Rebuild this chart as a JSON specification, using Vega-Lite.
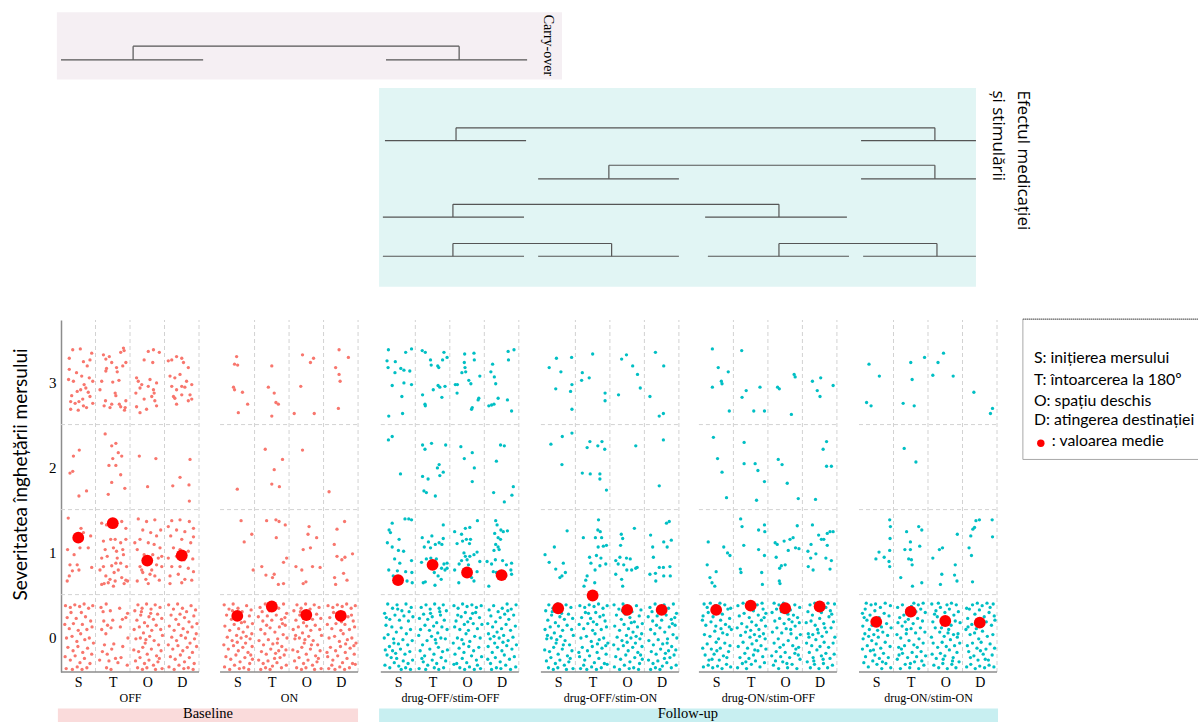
{
"$schema": "https://vega.github.io/schema/vega-lite/v6.json",
"autosize": {"type": "none"},
"width": 936,
"height": 352,
"padding": {"left": 61, "top": 320, "right": 201, "bottom": 50},
"background": "white",
"config": {
  "view": {"stroke": null},
  "axisX": {"domain": false, "ticks": false, "grid": false, "labelFont": "Liberation Serif", "labelFontSize": 14, "labelColor": "#000000", "labelPadding": 3, "labelFlush": false, "labelOverlap": false, "titleFont": "Liberation Serif", "titleFontSize": 12, "titleFontWeight": "normal", "titleColor": "#000000", "titleY": 25, "titleBaseline": "middle", "titleAlign": "center"}
},
"datasets": {
  "grid_v": [{"x":100},{"x":200},{"x":300},{"x":400}],
  "grid_h": [{"y":50},{"y":150},{"y":250}],
  "means": [
    {"g":"OFF","x":50,"m":117},{"g":"OFF","x":150,"m":134},{"g":"OFF","x":250,"m":90},{"g":"OFF","x":350,"m":96},
    {"g":"ON","x":50,"m":25},{"g":"ON","x":150,"m":36},{"g":"ON","x":250,"m":26},{"g":"ON","x":350,"m":25},
    {"g":"dOFF_sOFF","x":50,"m":67},{"g":"dOFF_sOFF","x":150,"m":85},{"g":"dOFF_sOFF","x":250,"m":76},{"g":"dOFF_sOFF","x":350,"m":73},
    {"g":"dOFF_sON","x":50,"m":34},{"g":"dOFF_sON","x":150,"m":49},{"g":"dOFF_sON","x":250,"m":32},{"g":"dOFF_sON","x":350,"m":32},
    {"g":"dON_sOFF","x":50,"m":32},{"g":"dON_sOFF","x":150,"m":37},{"g":"dON_sOFF","x":250,"m":34},{"g":"dON_sOFF","x":350,"m":36},
    {"g":"dON_sON","x":50,"m":18},{"g":"dON_sON","x":150,"m":30},{"g":"dON_sON","x":250,"m":19},{"g":"dON_sON","x":350,"m":17}
  ],
  "boxes": [
    {"k":"carry","x":-12,"x2":1452,"y":735,"y2":656},
    {"k":"effect","x":922,"x2":2652,"y":646,"y2":412},
    {"k":"baseline","x":-9,"x2":861,"y":-84,"y2":-110},
    {"k":"followup","x":922,"x2":2716,"y":-84,"y2":-110}
  ],
  "diagram": [
    {"x":0,"x2":412,"y":679,"y2":679},{"x":942,"x2":1351,"y":679,"y2":679},
    {"x":209,"x2":209,"y":679,"y2":695},{"x":209,"x2":1154,"y":695,"y2":695},{"x":1154,"x2":1154,"y":695,"y2":679},
    {"x":939,"x2":1348,"y":584,"y2":584},{"x":2319,"x2":2652,"y":584,"y2":584},
    {"x":1145,"x2":1145,"y":584,"y2":599},{"x":1145,"x2":2533,"y":599,"y2":599},{"x":2533,"x2":2533,"y":599,"y2":584},
    {"x":1383,"x2":1791,"y":539,"y2":539},{"x":2319,"x2":2652,"y":539,"y2":539},
    {"x":1588,"x2":1588,"y":539,"y2":555},{"x":1588,"x2":2533,"y":555,"y2":555},{"x":2533,"x2":2533,"y":555,"y2":539},
    {"x":933,"x2":1342,"y":494,"y2":494},{"x":1867,"x2":2278,"y":494,"y2":494},
    {"x":1136,"x2":1136,"y":494,"y2":509},{"x":1136,"x2":2081,"y":509,"y2":509},{"x":2081,"x2":2081,"y":509,"y2":494},
    {"x":933,"x2":1342,"y":448,"y2":448},{"x":1383,"x2":1791,"y":448,"y2":448},{"x":1875,"x2":2284,"y":448,"y2":448},{"x":2325,"x2":2652,"y":448,"y2":448},
    {"x":1136,"x2":1136,"y":448,"y2":463},{"x":1136,"x2":1596,"y":463,"y2":463},{"x":1596,"x2":1596,"y":463,"y2":448},
    {"x":2081,"x2":2081,"y":448,"y2":463},{"x":2081,"x2":2539,"y":463,"y2":463},{"x":2539,"x2":2539,"y":463,"y2":448}
  ],
  "OFF": [
    {"x":34,"y":338},{"x":56,"y":339},{"x":24,"y":328},{"x":89,"y":334},{"x":65,"y":324},{"x":84,"y":326},{"x":24,"y":315},{"x":45,"y":311},{"x":76,"y":319},{"x":60,"y":307},{"x":22,"y":303},{"x":36,"y":301},{"x":82,"y":305},{"x":92,"y":301},{"x":67,"y":297},{"x":72,"y":293},{"x":57,"y":291},{"x":47,"y":289},{"x":79,"y":288},{"x":31,"y":284},{"x":84,"y":283},{"x":63,"y":280},{"x":52,"y":277},{"x":28,"y":277},{"x":41,"y":275},{"x":92,"y":275},{"x":50,"y":267},{"x":65,"y":272},{"x":74,"y":270},{"x":28,"y":268},
    {"x":123,"y":332},{"x":130,"y":327},{"x":147,"y":323},{"x":181,"y":340},{"x":183,"y":337},{"x":173,"y":335},{"x":188,"y":323},{"x":118,"y":301},{"x":132,"y":316},{"x":130,"y":313},{"x":161,"y":317},{"x":163,"y":312},{"x":179,"y":319},{"x":168,"y":302},{"x":129,"y":278},{"x":125,"y":272},{"x":147,"y":274},{"x":169,"y":274},{"x":173,"y":271},{"x":188,"y":278},{"x":186,"y":270},{"x":184,"y":267},{"x":142,"y":270},{"x":159,"y":284},{"x":157,"y":287},{"x":113,"y":291},{"x":150,"y":300},{"x":140,"y":330},
    {"x":219,"y":305},{"x":224,"y":301},{"x":234,"y":297},{"x":229,"y":293},{"x":241,"y":326},{"x":253,"y":336},{"x":268,"y":338},{"x":285,"y":335},{"x":266,"y":323},{"x":258,"y":303},{"x":253,"y":295},{"x":268,"y":291},{"x":277,"y":299},{"x":270,"y":287},{"x":272,"y":278},{"x":277,"y":272},{"x":248,"y":268},{"x":229,"y":264},{"x":219,"y":271},{"x":241,"y":280},{"x":263,"y":283},{"x":217,"y":287},
    {"x":311,"y":325},{"x":321,"y":326},{"x":335,"y":330},{"x":350,"y":328},{"x":355,"y":323},{"x":369,"y":317},{"x":316,"y":307},{"x":330,"y":305},{"x":345,"y":309},{"x":364,"y":301},{"x":379,"y":297},{"x":321,"y":295},{"x":335,"y":291},{"x":350,"y":295},{"x":359,"y":294},{"x":326,"y":283},{"x":330,"y":281},{"x":350,"y":285},{"x":374,"y":285},{"x":379,"y":280},{"x":335,"y":274},{"x":369,"y":278},
    {"x":36,"y":213},{"x":53,"y":220},{"x":26,"y":193},{"x":34,"y":195},{"x":52,"y":166},{"x":74,"y":172},{"x":128,"y":239},{"x":147,"y":225},{"x":159,"y":228},{"x":166,"y":217},{"x":176,"y":213},{"x":139,"y":202},{"x":159,"y":202},{"x":147,"y":182},{"x":173,"y":191},{"x":137,"y":168},{"x":185,"y":175},{"x":150,"y":210},{"x":227,"y":213},{"x":275,"y":210},{"x":251,"y":177},{"x":374,"y":209},{"x":345,"y":188},{"x":324,"y":178},{"x":371,"y":179},{"x":372,"y":160},
    {"x":21,"y":140},{"x":58,"y":128},{"x":65,"y":123},{"x":86,"y":119},{"x":55,"y":105},{"x":79,"y":105},{"x":19,"y":103},{"x":38,"y":97},{"x":89,"y":82},{"x":26,"y":85},{"x":47,"y":85},{"x":52,"y":79},{"x":33,"y":78},{"x":24,"y":72},{"x":18,"y":66},
    {"x":118,"y":134},{"x":132,"y":132},{"x":147,"y":136},{"x":161,"y":134},{"x":176,"y":136},{"x":188,"y":128},{"x":123,"y":113},{"x":144,"y":115},{"x":157,"y":115},{"x":173,"y":111},{"x":188,"y":115},{"x":128,"y":103},{"x":152,"y":105},{"x":161,"y":101},{"x":179,"y":103},{"x":118,"y":93},{"x":134,"y":95},{"x":163,"y":93},{"x":181,"y":97},{"x":123,"y":83},{"x":147,"y":84},{"x":173,"y":87},{"x":190,"y":83},{"x":130,"y":72},{"x":154,"y":76},{"x":142,"y":68},{"x":157,"y":66},{"x":176,"y":70},{"x":188,"y":67},{"x":118,"y":62},{"x":125,"y":63},{"x":137,"y":64},{"x":152,"y":60},{"x":183,"y":63},{"x":193,"y":66},{"x":113,"y":79},{"x":166,"y":79},{"x":159,"y":87},
    {"x":224,"y":139},{"x":248,"y":136},{"x":272,"y":138},{"x":289,"y":126},{"x":237,"y":126},{"x":260,"y":123},{"x":277,"y":119},{"x":229,"y":115},{"x":253,"y":111},{"x":270,"y":109},{"x":287,"y":105},{"x":221,"y":103},{"x":241,"y":97},{"x":266,"y":97},{"x":282,"y":93},{"x":229,"y":83},{"x":248,"y":87},{"x":277,"y":85},{"x":292,"y":83},{"x":237,"y":76},{"x":258,"y":74},{"x":272,"y":72},{"x":221,"y":66},{"x":246,"y":68},{"x":285,"y":67},{"x":253,"y":63},{"x":234,"y":79},{"x":292,"y":95},{"x":214,"y":111},{"x":263,"y":79},
    {"x":321,"y":137},{"x":345,"y":138},{"x":372,"y":136},{"x":384,"y":128},{"x":311,"y":130},{"x":335,"y":126},{"x":359,"y":124},{"x":318,"y":119},{"x":350,"y":115},{"x":376,"y":111},{"x":384,"y":118},{"x":326,"y":105},{"x":345,"y":103},{"x":369,"y":101},{"x":311,"y":93},{"x":335,"y":95},{"x":357,"y":91},{"x":382,"y":92},{"x":321,"y":83},{"x":345,"y":83},{"x":369,"y":81},{"x":316,"y":72},{"x":340,"y":74},{"x":359,"y":68},{"x":379,"y":67},{"x":316,"y":63},{"x":350,"y":64},{"x":384,"y":77},
    {"x":13,"y":37},{"x":27,"y":35},{"x":40,"y":38},{"x":54,"y":36},{"x":67,"y":39},{"x":80,"y":34},{"x":92,"y":37},{"x":18,"y":23},{"x":29,"y":29},{"x":44,"y":22},{"x":59,"y":29},{"x":71,"y":24},{"x":86,"y":19},{"x":11,"y":15},{"x":24,"y":10},{"x":36,"y":16},{"x":50,"y":8},{"x":62,"y":15},{"x":75,"y":9},{"x":90,"y":12},{"x":16,"y":-1},{"x":32,"y":1},{"x":46,"y":-5},{"x":57,"y":4},{"x":69,"y":-3},{"x":82,"y":-1},{"x":94,"y":-7},{"x":20,"y":-12},{"x":35,"y":-16},{"x":49,"y":-11},{"x":63,"y":-18},{"x":77,"y":-13},{"x":89,"y":-20},{"x":12,"y":-23},{"x":27,"y":-27},{"x":41,"y":-22},{"x":55,"y":-30},{"x":68,"y":-25},{"x":84,"y":-31},{"x":15,"y":-37},{"x":33,"y":-38},{"x":47,"y":-35},{"x":61,"y":-38},{"x":75,"y":-36},
    {"x":116,"y":35},{"x":143,"y":31},{"x":170,"y":34},{"x":193,"y":28},{"x":124,"y":19},{"x":150,"y":20},{"x":178,"y":21},{"x":118,"y":9},{"x":145,"y":11},{"x":172,"y":12},{"x":194,"y":-1},{"x":126,"y":-9},{"x":153,"y":-8},{"x":179,"y":-11},{"x":120,"y":-17},{"x":147,"y":-14},{"x":174,"y":-24},{"x":112,"y":-27},{"x":139,"y":-28},{"x":165,"y":-30},{"x":192,"y":-33},{"x":145,"y":-38},{"x":132,"y":-36},{"x":188,"y":23},{"x":122,"y":30},{"x":135,"y":14},{"x":131,"y":39},{"x":130,"y":4},{"x":134,"y":-20},{"x":158,"y":-25},
    {"x":214,"y":31},{"x":223,"y":38},{"x":235,"y":34},{"x":248,"y":39},{"x":261,"y":33},{"x":273,"y":38},{"x":287,"y":35},{"x":220,"y":20},{"x":231,"y":26},{"x":242,"y":17},{"x":255,"y":24},{"x":268,"y":21},{"x":280,"y":27},{"x":292,"y":22},{"x":212,"y":9},{"x":227,"y":12},{"x":239,"y":5},{"x":251,"y":13},{"x":263,"y":8},{"x":276,"y":14},{"x":289,"y":9},{"x":217,"y":-2},{"x":230,"y":-1},{"x":244,"y":-7},{"x":257,"y":1},{"x":270,"y":-4},{"x":283,"y":-9},{"x":294,"y":2},{"x":211,"y":-15},{"x":225,"y":-17},{"x":237,"y":-12},{"x":250,"y":-20},{"x":262,"y":-14},{"x":277,"y":-22},{"x":290,"y":-16},{"x":216,"y":-28},{"x":229,"y":-24},{"x":242,"y":-31},{"x":255,"y":-27},{"x":268,"y":-33},{"x":281,"y":-29},{"x":293,"y":-37},{"x":222,"y":-36},{"x":236,"y":-38},{"x":249,"y":-36},{"x":274,"y":-38},{"x":260,"y":28},{"x":246,"y":-3},{"x":285,"y":-25},{"x":233,"y":30},
    {"x":312,"y":38},{"x":326,"y":33},{"x":338,"y":39},{"x":352,"y":34},{"x":364,"y":30},{"x":377,"y":37},{"x":390,"y":32},{"x":319,"y":26},{"x":333,"y":21},{"x":345,"y":27},{"x":358,"y":23},{"x":371,"y":18},{"x":385,"y":25},{"x":394,"y":16},{"x":314,"y":13},{"x":328,"y":8},{"x":341,"y":15},{"x":354,"y":10},{"x":367,"y":6},{"x":380,"y":12},{"x":392,"y":4},{"x":321,"y":0},{"x":335,"y":-4},{"x":348,"y":2},{"x":361,"y":-1},{"x":374,"y":-7},{"x":387,"y":-2},{"x":311,"y":-9},{"x":324,"y":-14},{"x":339,"y":-10},{"x":353,"y":-16},{"x":366,"y":-12},{"x":381,"y":-18},{"x":393,"y":-11},{"x":317,"y":-23},{"x":331,"y":-26},{"x":346,"y":-21},{"x":358,"y":-29},{"x":372,"y":-24},{"x":386,"y":-31},{"x":313,"y":-35},{"x":328,"y":-38},{"x":342,"y":-33},{"x":356,"y":-37},{"x":369,"y":-36},{"x":383,"y":-38}
  ],
  "ON": [
    {"x":48,"y":330},{"x":42,"y":321},{"x":51,"y":320},{"x":39,"y":294},{"x":42,"y":291},{"x":65,"y":288},{"x":80,"y":274},{"x":53,"y":264},{"x":150,"y":319},{"x":140,"y":294},{"x":157,"y":287},{"x":162,"y":276},{"x":169,"y":274},{"x":150,"y":260},{"x":239,"y":332},{"x":262,"y":323},{"x":271,"y":328},{"x":234,"y":295},{"x":215,"y":263},{"x":273,"y":263},{"x":345,"y":338},{"x":372,"y":329},{"x":335,"y":317},{"x":345,"y":309},{"x":348,"y":301},{"x":343,"y":269},
    {"x":50,"y":174},{"x":131,"y":221},{"x":181,"y":209},{"x":157,"y":197},{"x":150,"y":180},{"x":172,"y":177},{"x":239,"y":220},{"x":316,"y":171},
    {"x":61,"y":137},{"x":92,"y":121},{"x":70,"y":112},{"x":96,"y":79},{"x":135,"y":137},{"x":162,"y":138},{"x":171,"y":136},{"x":189,"y":132},{"x":163,"y":117},{"x":193,"y":93},{"x":184,"y":88},{"x":121,"y":83},{"x":133,"y":73},{"x":157,"y":74},{"x":152,"y":70},{"x":169,"y":62},{"x":184,"y":63},{"x":258,"y":130},{"x":255,"y":121},{"x":280,"y":117},{"x":241,"y":103},{"x":262,"y":105},{"x":220,"y":83},{"x":237,"y":79},{"x":268,"y":83},{"x":290,"y":82},{"x":241,"y":63},{"x":249,"y":65},{"x":361,"y":136},{"x":339,"y":127},{"x":331,"y":109},{"x":339,"y":95},{"x":353,"y":91},{"x":362,"y":94},{"x":384,"y":98},{"x":332,"y":70},{"x":358,"y":75},{"x":368,"y":67},{"x":335,"y":62},
    {"x":12,"y":38},{"x":26,"y":33},{"x":38,"y":39},{"x":52,"y":34},{"x":64,"y":30},{"x":77,"y":37},{"x":90,"y":32},{"x":19,"y":26},{"x":33,"y":21},{"x":45,"y":27},{"x":58,"y":23},{"x":71,"y":18},{"x":85,"y":25},{"x":94,"y":16},{"x":14,"y":13},{"x":28,"y":8},{"x":41,"y":15},{"x":54,"y":10},{"x":67,"y":6},{"x":80,"y":12},{"x":92,"y":4},{"x":21,"y":0},{"x":35,"y":-4},{"x":48,"y":2},{"x":61,"y":-1},{"x":74,"y":-7},{"x":87,"y":-2},{"x":11,"y":-9},{"x":24,"y":-14},{"x":39,"y":-10},{"x":53,"y":-16},{"x":66,"y":-12},{"x":81,"y":-18},{"x":93,"y":-11},{"x":17,"y":-23},{"x":31,"y":-26},{"x":46,"y":-21},{"x":58,"y":-29},{"x":72,"y":-24},{"x":86,"y":-31},{"x":13,"y":-35},{"x":28,"y":-38},{"x":42,"y":-33},{"x":56,"y":-37},{"x":69,"y":-36},{"x":83,"y":-38},{"x":94,"y":-26},{"x":50,"y":-6},{"x":36,"y":31},{"x":76,"y":1},{"x":62,"y":17},{"x":89,"y":-21},
    {"x":116,"y":35},{"x":131,"y":39},{"x":143,"y":31},{"x":157,"y":38},{"x":170,"y":34},{"x":184,"y":39},{"x":193,"y":28},{"x":111,"y":24},{"x":124,"y":19},{"x":137,"y":25},{"x":150,"y":20},{"x":163,"y":26},{"x":178,"y":21},{"x":189,"y":14},{"x":118,"y":9},{"x":130,"y":4},{"x":145,"y":11},{"x":159,"y":6},{"x":172,"y":12},{"x":183,"y":3},{"x":194,"y":-1},{"x":113,"y":-4},{"x":126,"y":-9},{"x":140,"y":-3},{"x":153,"y":-8},{"x":167,"y":-2},{"x":179,"y":-11},{"x":191,"y":-15},{"x":120,"y":-17},{"x":134,"y":-20},{"x":147,"y":-14},{"x":161,"y":-19},{"x":174,"y":-24},{"x":186,"y":-21},{"x":112,"y":-27},{"x":125,"y":-31},{"x":139,"y":-28},{"x":152,"y":-34},{"x":165,"y":-30},{"x":178,"y":-36},{"x":192,"y":-33},{"x":118,"y":-38},{"x":145,"y":-38},{"x":158,"y":-25},{"x":132,"y":-36},{"x":170,"y":-16},{"x":188,"y":23},{"x":155,"y":33},{"x":122,"y":30},{"x":166,"y":-7},{"x":135,"y":14},{"x":181,"y":16},
    {"x":214,"y":31},{"x":223,"y":38},{"x":235,"y":34},{"x":248,"y":39},{"x":261,"y":33},{"x":273,"y":38},{"x":287,"y":35},{"x":220,"y":20},{"x":231,"y":26},{"x":242,"y":17},{"x":255,"y":24},{"x":268,"y":21},{"x":280,"y":27},{"x":292,"y":22},{"x":212,"y":9},{"x":227,"y":12},{"x":239,"y":5},{"x":251,"y":13},{"x":263,"y":8},{"x":276,"y":14},{"x":289,"y":9},{"x":217,"y":-2},{"x":230,"y":-1},{"x":244,"y":-7},{"x":257,"y":1},{"x":270,"y":-4},{"x":283,"y":-9},{"x":294,"y":2},{"x":211,"y":-15},{"x":225,"y":-17},{"x":237,"y":-12},{"x":250,"y":-20},{"x":262,"y":-14},{"x":277,"y":-22},{"x":290,"y":-16},{"x":216,"y":-28},{"x":229,"y":-24},{"x":242,"y":-31},{"x":255,"y":-27},{"x":268,"y":-33},{"x":281,"y":-29},{"x":293,"y":-37},{"x":222,"y":-36},{"x":236,"y":-38},{"x":249,"y":-36},{"x":274,"y":-38},{"x":260,"y":28},{"x":246,"y":-3},{"x":285,"y":-25},{"x":233,"y":30},{"x":265,"y":-9},{"x":219,"y":2},
    {"x":313,"y":37},{"x":327,"y":35},{"x":340,"y":38},{"x":354,"y":36},{"x":367,"y":39},{"x":380,"y":34},{"x":392,"y":37},{"x":318,"y":23},{"x":329,"y":29},{"x":344,"y":22},{"x":359,"y":29},{"x":371,"y":24},{"x":386,"y":19},{"x":311,"y":15},{"x":324,"y":10},{"x":336,"y":16},{"x":350,"y":8},{"x":362,"y":15},{"x":375,"y":9},{"x":390,"y":12},{"x":316,"y":-1},{"x":332,"y":1},{"x":346,"y":-5},{"x":357,"y":4},{"x":369,"y":-3},{"x":382,"y":-1},{"x":394,"y":-7},{"x":320,"y":-12},{"x":335,"y":-16},{"x":349,"y":-11},{"x":363,"y":-18},{"x":377,"y":-13},{"x":389,"y":-20},{"x":312,"y":-23},{"x":327,"y":-27},{"x":341,"y":-22},{"x":355,"y":-30},{"x":368,"y":-25},{"x":384,"y":-31},{"x":315,"y":-37},{"x":333,"y":-38},{"x":347,"y":-35},{"x":361,"y":-38},{"x":375,"y":-36},{"x":392,"y":-32},{"x":338,"y":28},{"x":364,"y":-8},{"x":324,"y":-33},{"x":381,"y":26},{"x":352,"y":18},{"x":388,"y":-10},{"x":310,"y":-18}
  ],
  "dOFF_sOFF": [
    {"x":22,"y":338},{"x":72,"y":335},{"x":89,"y":339},{"x":18,"y":325},{"x":42,"y":324},{"x":21,"y":317},{"x":58,"y":316},{"x":67,"y":314},{"x":84,"y":313},{"x":41,"y":311},{"x":67,"y":299},{"x":33,"y":296},{"x":89,"y":297},{"x":61,"y":283},{"x":63,"y":263},{"x":23,"y":260},
    {"x":120,"y":337},{"x":129,"y":335},{"x":144,"y":326},{"x":146,"y":320},{"x":183,"y":335},{"x":192,"y":329},{"x":179,"y":326},{"x":165,"y":319},{"x":168,"y":317},{"x":121,"y":285},{"x":128,"y":274},{"x":129,"y":272},{"x":166,"y":296},{"x":171,"y":294},{"x":186,"y":295},{"x":177,"y":282},{"x":152,"y":291},
    {"x":216,"y":297},{"x":222,"y":297},{"x":221,"y":287},{"x":243,"y":333},{"x":270,"y":334},{"x":271,"y":326},{"x":244,"y":317},{"x":246,"y":312},{"x":255,"y":302},{"x":261,"y":298},{"x":287,"y":307},{"x":284,"y":281},{"x":282,"y":279},{"x":265,"y":270},{"x":263,"y":268},{"x":242,"y":323},{"x":235,"y":311},
    {"x":324,"y":321},{"x":319,"y":312},{"x":329,"y":306},{"x":333,"y":298},{"x":369,"y":336},{"x":386,"y":338},{"x":370,"y":326},{"x":340,"y":281},{"x":367,"y":279},{"x":379,"y":266},{"x":313,"y":272},{"x":321,"y":273},{"x":328,"y":274},
    {"x":22,"y":232},{"x":33,"y":236},{"x":57,"y":192},{"x":121,"y":226},{"x":128,"y":221},{"x":147,"y":228},{"x":188,"y":226},{"x":169,"y":203},{"x":164,"y":199},{"x":181,"y":194},{"x":121,"y":189},{"x":137,"y":186},{"x":171,"y":190},{"x":125,"y":172},{"x":132,"y":170},{"x":158,"y":166},{"x":232,"y":224},{"x":242,"y":210},{"x":265,"y":217},{"x":271,"y":199},{"x":265,"y":183},{"x":347,"y":226},{"x":358,"y":225},{"x":335,"y":207},{"x":327,"y":170},{"x":358,"y":159},{"x":384,"y":177},{"x":380,"y":167},
    {"x":70,"y":139},{"x":81,"y":139},{"x":89,"y":138},{"x":33,"y":134},{"x":24,"y":126},{"x":28,"y":123},{"x":53,"y":115},{"x":19,"y":111},{"x":33,"y":106},{"x":51,"y":102},{"x":66,"y":101},{"x":40,"y":92},{"x":89,"y":90},{"x":23,"y":79},{"x":48,"y":78},{"x":72,"y":77},{"x":90,"y":76},{"x":36,"y":72},{"x":76,"y":66},{"x":91,"y":64},{"x":55,"y":87},
    {"x":181,"y":132},{"x":120,"y":117},{"x":148,"y":119},{"x":138,"y":112},{"x":169,"y":111},{"x":181,"y":116},{"x":126,"y":106},{"x":144,"y":105},{"x":158,"y":109},{"x":177,"y":109},{"x":118,"y":88},{"x":132,"y":92},{"x":145,"y":93},{"x":161,"y":92},{"x":176,"y":81},{"x":186,"y":79},{"x":192,"y":81},{"x":123,"y":64},{"x":129,"y":65},{"x":157,"y":61},{"x":175,"y":68},{"x":166,"y":72},{"x":155,"y":76},{"x":183,"y":86},{"x":192,"y":87},
    {"x":214,"y":124},{"x":234,"y":121},{"x":258,"y":129},{"x":280,"y":137},{"x":245,"y":128},{"x":248,"y":115},{"x":260,"y":115},{"x":221,"y":110},{"x":237,"y":113},{"x":257,"y":110},{"x":241,"y":99},{"x":245,"y":95},{"x":258,"y":95},{"x":270,"y":97},{"x":234,"y":90},{"x":250,"y":91},{"x":227,"y":86},{"x":254,"y":85},{"x":279,"y":100},{"x":287,"y":89},{"x":226,"y":64},{"x":263,"y":70},{"x":279,"y":77},{"x":214,"y":79},{"x":242,"y":76},{"x":270,"y":66},
    {"x":333,"y":137},{"x":337,"y":132},{"x":348,"y":126},{"x":367,"y":125},{"x":330,"y":122},{"x":355,"y":124},{"x":340,"y":117},{"x":347,"y":115},{"x":333,"y":109},{"x":340,"y":106},{"x":328,"y":102},{"x":343,"y":103},{"x":332,"y":91},{"x":308,"y":89},{"x":321,"y":86},{"x":353,"y":90},{"x":364,"y":85},{"x":379,"y":87},{"x":377,"y":79},{"x":379,"y":74},{"x":362,"y":72},{"x":313,"y":60},{"x":335,"y":76},{"x":350,"y":70},{"x":326,"y":77},
    {"x":88,"y":35},{"x":73,"y":39},{"x":61,"y":31},{"x":47,"y":38},{"x":34,"y":34},{"x":20,"y":39},{"x":11,"y":28},{"x":93,"y":24},{"x":80,"y":19},{"x":67,"y":25},{"x":54,"y":20},{"x":41,"y":26},{"x":26,"y":21},{"x":15,"y":14},{"x":86,"y":9},{"x":74,"y":4},{"x":59,"y":11},{"x":45,"y":6},{"x":32,"y":12},{"x":21,"y":3},{"x":10,"y":-1},{"x":91,"y":-4},{"x":78,"y":-9},{"x":64,"y":-3},{"x":51,"y":-8},{"x":37,"y":-2},{"x":25,"y":-11},{"x":13,"y":-15},{"x":84,"y":-17},{"x":70,"y":-20},{"x":57,"y":-14},{"x":43,"y":-19},{"x":30,"y":-24},{"x":18,"y":-21},{"x":92,"y":-27},{"x":79,"y":-31},{"x":65,"y":-28},{"x":52,"y":-34},{"x":39,"y":-30},{"x":26,"y":-36},{"x":12,"y":-33},{"x":86,"y":-38},{"x":59,"y":-38},{"x":46,"y":-25},{"x":72,"y":-36},{"x":34,"y":-16},{"x":16,"y":23},{"x":49,"y":33},{"x":82,"y":30},{"x":38,"y":-7},
    {"x":190,"y":31},{"x":181,"y":38},{"x":169,"y":34},{"x":156,"y":39},{"x":143,"y":33},{"x":131,"y":38},{"x":117,"y":35},{"x":184,"y":20},{"x":173,"y":26},{"x":162,"y":17},{"x":149,"y":24},{"x":136,"y":21},{"x":124,"y":27},{"x":112,"y":22},{"x":192,"y":9},{"x":177,"y":12},{"x":165,"y":5},{"x":153,"y":13},{"x":141,"y":8},{"x":128,"y":14},{"x":115,"y":9},{"x":187,"y":-2},{"x":174,"y":-1},{"x":160,"y":-7},{"x":147,"y":1},{"x":134,"y":-4},{"x":121,"y":-9},{"x":110,"y":2},{"x":193,"y":-15},{"x":179,"y":-17},{"x":167,"y":-12},{"x":154,"y":-20},{"x":142,"y":-14},{"x":127,"y":-22},{"x":114,"y":-16},{"x":188,"y":-28},{"x":175,"y":-24},{"x":162,"y":-31},{"x":149,"y":-27},{"x":136,"y":-33},{"x":123,"y":-29},{"x":111,"y":-37},{"x":182,"y":-36},{"x":168,"y":-38},{"x":155,"y":-36},{"x":130,"y":-38},{"x":144,"y":28},{"x":158,"y":-3},{"x":119,"y":-25},{"x":171,"y":30},
    {"x":291,"y":37},{"x":277,"y":35},{"x":264,"y":38},{"x":250,"y":36},{"x":237,"y":39},{"x":224,"y":34},{"x":212,"y":37},{"x":286,"y":23},{"x":275,"y":29},{"x":260,"y":22},{"x":245,"y":29},{"x":233,"y":24},{"x":218,"y":19},{"x":293,"y":15},{"x":280,"y":10},{"x":268,"y":16},{"x":254,"y":8},{"x":242,"y":15},{"x":229,"y":9},{"x":214,"y":12},{"x":288,"y":-1},{"x":272,"y":1},{"x":258,"y":-5},{"x":247,"y":4},{"x":235,"y":-3},{"x":222,"y":-1},{"x":210,"y":-7},{"x":284,"y":-12},{"x":269,"y":-16},{"x":255,"y":-11},{"x":241,"y":-18},{"x":227,"y":-13},{"x":215,"y":-20},{"x":292,"y":-23},{"x":277,"y":-27},{"x":263,"y":-22},{"x":249,"y":-30},{"x":236,"y":-25},{"x":220,"y":-31},{"x":289,"y":-37},{"x":271,"y":-38},{"x":257,"y":-35},{"x":243,"y":-38},{"x":229,"y":-36},{"x":212,"y":-32},{"x":266,"y":28},{"x":240,"y":-8},{"x":280,"y":-33},{"x":223,"y":26},{"x":252,"y":18},
    {"x":392,"y":38},{"x":378,"y":33},{"x":366,"y":39},{"x":352,"y":34},{"x":340,"y":30},{"x":327,"y":37},{"x":314,"y":32},{"x":385,"y":26},{"x":371,"y":21},{"x":359,"y":27},{"x":346,"y":23},{"x":333,"y":18},{"x":319,"y":25},{"x":310,"y":16},{"x":390,"y":13},{"x":376,"y":8},{"x":363,"y":15},{"x":350,"y":10},{"x":337,"y":6},{"x":324,"y":12},{"x":312,"y":4},{"x":383,"y":0},{"x":369,"y":-4},{"x":356,"y":2},{"x":343,"y":-1},{"x":330,"y":-7},{"x":317,"y":-2},{"x":393,"y":-9},{"x":380,"y":-14},{"x":365,"y":-10},{"x":351,"y":-16},{"x":338,"y":-12},{"x":323,"y":-18},{"x":311,"y":-11},{"x":387,"y":-23},{"x":373,"y":-26},{"x":358,"y":-21},{"x":346,"y":-29},{"x":332,"y":-24},{"x":318,"y":-31},{"x":391,"y":-35},{"x":376,"y":-38},{"x":362,"y":-33},{"x":348,"y":-37},{"x":335,"y":-36},{"x":321,"y":-38},{"x":310,"y":-26},{"x":354,"y":-6},{"x":368,"y":31},{"x":328,"y":1}
  ],
  "dOFF_sON": [
    {"x":24,"y":317},{"x":45,"y":328},{"x":58,"y":312},{"x":89,"y":329},{"x":43,"y":292},{"x":90,"y":297},{"x":86,"y":289},{"x":90,"y":268},{"x":150,"y":333},{"x":120,"y":311},{"x":118,"y":302},{"x":140,"y":305},{"x":186,"y":287},{"x":186,"y":278},{"x":234,"y":327},{"x":248,"y":332},{"x":266,"y":319},{"x":280,"y":309},{"x":288,"y":293},{"x":225,"y":285},{"x":332,"y":335},{"x":356,"y":319},{"x":316,"y":283},{"x":343,"y":260},{"x":355,"y":263},
    {"x":29,"y":227},{"x":62,"y":236},{"x":90,"y":240},{"x":61,"y":203},{"x":134,"y":223},{"x":142,"y":230},{"x":165,"y":225},{"x":177,"y":230},{"x":185,"y":221},{"x":120,"y":193},{"x":143,"y":192},{"x":171,"y":192},{"x":171,"y":186},{"x":190,"y":173},{"x":275,"y":225},{"x":355,"y":232},{"x":343,"y":178},
    {"x":76,"y":125},{"x":39,"y":106},{"x":24,"y":88},{"x":43,"y":80},{"x":71,"y":76},{"x":55,"y":70},{"x":61,"y":72},{"x":12,"y":97},{"x":65,"y":87},
    {"x":167,"y":138},{"x":165,"y":126},{"x":172,"y":124},{"x":123,"y":117},{"x":158,"y":117},{"x":176,"y":117},{"x":166,"y":106},{"x":181,"y":107},{"x":190,"y":108},{"x":141,"y":94},{"x":161,"y":96},{"x":188,"y":86},{"x":157,"y":79},{"x":171,"y":84},{"x":134,"y":72},{"x":130,"y":67},{"x":125,"y":60},{"x":156,"y":64},{"x":145,"y":87},{"x":174,"y":93},
    {"x":237,"y":116},{"x":231,"y":108},{"x":229,"y":94},{"x":248,"y":93},{"x":259,"y":92},{"x":217,"y":90},{"x":224,"y":86},{"x":240,"y":85},{"x":249,"y":79},{"x":263,"y":79},{"x":279,"y":82},{"x":217,"y":74},{"x":234,"y":68},{"x":237,"y":60},{"x":271,"y":128},{"x":275,"y":81},{"x":233,"y":121},
    {"x":372,"y":136},{"x":364,"y":134},{"x":318,"y":120},{"x":324,"y":106},{"x":356,"y":112},{"x":378,"y":114},{"x":366,"y":106},{"x":326,"y":94},{"x":343,"y":82},{"x":355,"y":82},{"x":374,"y":83},{"x":316,"y":74},{"x":332,"y":75},{"x":356,"y":72},{"x":375,"y":72},{"x":333,"y":66},
    {"x":14,"y":31},{"x":23,"y":38},{"x":35,"y":34},{"x":48,"y":39},{"x":61,"y":33},{"x":73,"y":38},{"x":87,"y":35},{"x":20,"y":20},{"x":31,"y":26},{"x":42,"y":17},{"x":55,"y":24},{"x":68,"y":21},{"x":80,"y":27},{"x":92,"y":22},{"x":12,"y":9},{"x":27,"y":12},{"x":39,"y":5},{"x":51,"y":13},{"x":63,"y":8},{"x":76,"y":14},{"x":89,"y":9},{"x":17,"y":-2},{"x":30,"y":-1},{"x":44,"y":-7},{"x":57,"y":1},{"x":70,"y":-4},{"x":83,"y":-9},{"x":94,"y":2},{"x":11,"y":-15},{"x":25,"y":-17},{"x":37,"y":-12},{"x":50,"y":-20},{"x":62,"y":-14},{"x":77,"y":-22},{"x":90,"y":-16},{"x":16,"y":-28},{"x":29,"y":-24},{"x":42,"y":-31},{"x":55,"y":-27},{"x":68,"y":-33},{"x":81,"y":-29},{"x":93,"y":-37},{"x":22,"y":-36},{"x":36,"y":-38},{"x":49,"y":-36},{"x":74,"y":-38},{"x":60,"y":28},{"x":46,"y":-3},{"x":85,"y":-25},{"x":33,"y":30},{"x":65,"y":-9},{"x":19,"y":2},
    {"x":113,"y":37},{"x":127,"y":35},{"x":140,"y":38},{"x":154,"y":36},{"x":167,"y":39},{"x":180,"y":34},{"x":192,"y":37},{"x":118,"y":23},{"x":129,"y":29},{"x":144,"y":22},{"x":159,"y":29},{"x":171,"y":24},{"x":186,"y":19},{"x":111,"y":15},{"x":124,"y":10},{"x":136,"y":16},{"x":150,"y":8},{"x":162,"y":15},{"x":175,"y":9},{"x":190,"y":12},{"x":116,"y":-1},{"x":132,"y":1},{"x":146,"y":-5},{"x":157,"y":4},{"x":169,"y":-3},{"x":182,"y":-1},{"x":194,"y":-7},{"x":120,"y":-12},{"x":135,"y":-16},{"x":149,"y":-11},{"x":163,"y":-18},{"x":177,"y":-13},{"x":189,"y":-20},{"x":112,"y":-23},{"x":127,"y":-27},{"x":141,"y":-22},{"x":155,"y":-30},{"x":168,"y":-25},{"x":184,"y":-31},{"x":115,"y":-37},{"x":133,"y":-38},{"x":147,"y":-35},{"x":161,"y":-38},{"x":175,"y":-36},{"x":192,"y":-32},{"x":138,"y":28},{"x":164,"y":-8},{"x":124,"y":-33},{"x":181,"y":26},{"x":152,"y":18},{"x":188,"y":-10},{"x":110,"y":-18},
    {"x":212,"y":38},{"x":226,"y":33},{"x":238,"y":39},{"x":252,"y":34},{"x":264,"y":30},{"x":277,"y":37},{"x":290,"y":32},{"x":219,"y":26},{"x":233,"y":21},{"x":245,"y":27},{"x":258,"y":23},{"x":271,"y":18},{"x":285,"y":25},{"x":294,"y":16},{"x":214,"y":13},{"x":228,"y":8},{"x":241,"y":15},{"x":254,"y":10},{"x":267,"y":6},{"x":280,"y":12},{"x":292,"y":4},{"x":221,"y":0},{"x":235,"y":-4},{"x":248,"y":2},{"x":261,"y":-1},{"x":274,"y":-7},{"x":287,"y":-2},{"x":211,"y":-9},{"x":224,"y":-14},{"x":239,"y":-10},{"x":253,"y":-16},{"x":266,"y":-12},{"x":281,"y":-18},{"x":293,"y":-11},{"x":217,"y":-23},{"x":231,"y":-26},{"x":246,"y":-21},{"x":258,"y":-29},{"x":272,"y":-24},{"x":286,"y":-31},{"x":213,"y":-35},{"x":228,"y":-38},{"x":242,"y":-33},{"x":256,"y":-37},{"x":269,"y":-36},{"x":283,"y":-38},{"x":294,"y":-26},{"x":250,"y":-6},{"x":236,"y":31},{"x":276,"y":1},{"x":262,"y":17},{"x":289,"y":-21},
    {"x":316,"y":35},{"x":331,"y":39},{"x":343,"y":31},{"x":357,"y":38},{"x":370,"y":34},{"x":384,"y":39},{"x":393,"y":28},{"x":311,"y":24},{"x":324,"y":19},{"x":337,"y":25},{"x":350,"y":20},{"x":363,"y":26},{"x":378,"y":21},{"x":389,"y":14},{"x":318,"y":9},{"x":330,"y":4},{"x":345,"y":11},{"x":359,"y":6},{"x":372,"y":12},{"x":383,"y":3},{"x":394,"y":-1},{"x":313,"y":-4},{"x":326,"y":-9},{"x":340,"y":-3},{"x":353,"y":-8},{"x":367,"y":-2},{"x":379,"y":-11},{"x":391,"y":-15},{"x":320,"y":-17},{"x":334,"y":-20},{"x":347,"y":-14},{"x":361,"y":-19},{"x":374,"y":-24},{"x":386,"y":-21},{"x":312,"y":-27},{"x":325,"y":-31},{"x":339,"y":-28},{"x":352,"y":-34},{"x":365,"y":-30},{"x":378,"y":-36},{"x":392,"y":-33},{"x":318,"y":-38},{"x":345,"y":-38},{"x":358,"y":-25},{"x":332,"y":-36},{"x":370,"y":-16},{"x":388,"y":23},{"x":355,"y":33},{"x":322,"y":30},{"x":366,"y":-7},{"x":335,"y":14},{"x":381,"y":16}
  ],
  "dON_sOFF": [
    {"x":39,"y":339},{"x":56,"y":317},{"x":65,"y":301},{"x":67,"y":298},{"x":39,"y":294},{"x":85,"y":312},{"x":88,"y":266},{"x":124,"y":337},{"x":137,"y":290},{"x":125,"y":282},{"x":177,"y":294},{"x":159,"y":266},{"x":190,"y":266},{"x":228,"y":294},{"x":233,"y":292},{"x":276,"y":309},{"x":279,"y":306},{"x":268,"y":262},{"x":329,"y":301},{"x":353,"y":305},{"x":343,"y":290},{"x":351,"y":283},{"x":389,"y":296},
    {"x":42,"y":235},{"x":54,"y":210},{"x":67,"y":194},{"x":80,"y":164},{"x":131,"y":229},{"x":131,"y":204},{"x":163,"y":204},{"x":171,"y":196},{"x":190,"y":183},{"x":167,"y":161},{"x":230,"y":209},{"x":241,"y":203},{"x":256,"y":181},{"x":288,"y":163},{"x":370,"y":230},{"x":360,"y":221},{"x":370,"y":201},{"x":384,"y":201},{"x":338,"y":162},
    {"x":27,"y":112},{"x":72,"y":106},{"x":83,"y":99},{"x":90,"y":96},{"x":24,"y":85},{"x":32,"y":70},{"x":38,"y":64},{"x":46,"y":60},{"x":50,"y":77},
    {"x":121,"y":139},{"x":125,"y":130},{"x":190,"y":132},{"x":173,"y":126},{"x":191,"y":124},{"x":130,"y":108},{"x":173,"y":103},{"x":190,"y":96},{"x":120,"y":80},{"x":122,"y":76},{"x":182,"y":76},{"x":184,"y":62},
    {"x":227,"y":109},{"x":221,"y":111},{"x":247,"y":113},{"x":264,"y":115},{"x":273,"y":117},{"x":285,"y":131},{"x":259,"y":102},{"x":280,"y":105},{"x":290,"y":104},{"x":224,"y":94},{"x":239,"y":84},{"x":250,"y":85},{"x":234,"y":81},{"x":233,"y":66},{"x":235,"y":63},
    {"x":329,"y":132},{"x":347,"y":120},{"x":355,"y":115},{"x":362,"y":115},{"x":372,"y":122},{"x":380,"y":124},{"x":389,"y":124},{"x":316,"y":101},{"x":325,"y":109},{"x":339,"y":98},{"x":372,"y":108},{"x":368,"y":93},{"x":384,"y":90},{"x":317,"y":83},{"x":331,"y":79},{"x":380,"y":80},{"x":324,"y":93},
    {"x":13,"y":-35},{"x":27,"y":-33},{"x":40,"y":-36},{"x":54,"y":-34},{"x":67,"y":-37},{"x":80,"y":-32},{"x":92,"y":-35},{"x":18,"y":-21},{"x":29,"y":-27},{"x":44,"y":-20},{"x":59,"y":-27},{"x":71,"y":-22},{"x":86,"y":-17},{"x":11,"y":-13},{"x":24,"y":-8},{"x":36,"y":-14},{"x":50,"y":-6},{"x":62,"y":-13},{"x":75,"y":-7},{"x":90,"y":-10},{"x":16,"y":3},{"x":32,"y":1},{"x":46,"y":7},{"x":57,"y":-2},{"x":69,"y":5},{"x":82,"y":3},{"x":94,"y":9},{"x":20,"y":14},{"x":35,"y":18},{"x":49,"y":13},{"x":63,"y":20},{"x":77,"y":15},{"x":89,"y":22},{"x":12,"y":25},{"x":27,"y":29},{"x":41,"y":24},{"x":55,"y":32},{"x":68,"y":27},{"x":84,"y":33},{"x":15,"y":39},{"x":33,"y":40},{"x":47,"y":37},{"x":61,"y":40},{"x":75,"y":38},{"x":92,"y":34},{"x":38,"y":-26},{"x":64,"y":10},{"x":24,"y":35},{"x":81,"y":-24},{"x":52,"y":-16},{"x":88,"y":12},{"x":10,"y":20},
    {"x":112,"y":-36},{"x":126,"y":-31},{"x":138,"y":-37},{"x":152,"y":-32},{"x":164,"y":-28},{"x":177,"y":-35},{"x":190,"y":-30},{"x":119,"y":-24},{"x":133,"y":-19},{"x":145,"y":-25},{"x":158,"y":-21},{"x":171,"y":-16},{"x":185,"y":-23},{"x":194,"y":-14},{"x":114,"y":-11},{"x":128,"y":-6},{"x":141,"y":-13},{"x":154,"y":-8},{"x":167,"y":-4},{"x":180,"y":-10},{"x":192,"y":-2},{"x":121,"y":2},{"x":135,"y":6},{"x":148,"y":0},{"x":161,"y":3},{"x":174,"y":9},{"x":187,"y":4},{"x":111,"y":11},{"x":124,"y":16},{"x":139,"y":12},{"x":153,"y":18},{"x":166,"y":14},{"x":181,"y":20},{"x":193,"y":13},{"x":117,"y":25},{"x":131,"y":28},{"x":146,"y":23},{"x":158,"y":31},{"x":172,"y":26},{"x":186,"y":33},{"x":113,"y":37},{"x":128,"y":40},{"x":142,"y":35},{"x":156,"y":39},{"x":169,"y":38},{"x":183,"y":40},{"x":194,"y":28},{"x":150,"y":8},{"x":136,"y":-29},{"x":176,"y":1},{"x":162,"y":-15},{"x":189,"y":23},
    {"x":216,"y":-33},{"x":231,"y":-37},{"x":243,"y":-29},{"x":257,"y":-36},{"x":270,"y":-32},{"x":284,"y":-37},{"x":293,"y":-26},{"x":211,"y":-22},{"x":224,"y":-17},{"x":237,"y":-23},{"x":250,"y":-18},{"x":263,"y":-24},{"x":278,"y":-19},{"x":289,"y":-12},{"x":218,"y":-7},{"x":230,"y":-2},{"x":245,"y":-9},{"x":259,"y":-4},{"x":272,"y":-10},{"x":283,"y":-1},{"x":294,"y":3},{"x":213,"y":6},{"x":226,"y":11},{"x":240,"y":5},{"x":253,"y":10},{"x":267,"y":4},{"x":279,"y":13},{"x":291,"y":17},{"x":220,"y":19},{"x":234,"y":22},{"x":247,"y":16},{"x":261,"y":21},{"x":274,"y":26},{"x":286,"y":23},{"x":212,"y":29},{"x":225,"y":33},{"x":239,"y":30},{"x":252,"y":36},{"x":265,"y":32},{"x":278,"y":38},{"x":292,"y":35},{"x":218,"y":40},{"x":245,"y":40},{"x":258,"y":27},{"x":232,"y":38},{"x":270,"y":18},{"x":288,"y":-21},{"x":255,"y":-31},{"x":222,"y":-28},{"x":266,"y":9},{"x":235,"y":-12},{"x":281,"y":-14},
    {"x":314,"y":-29},{"x":323,"y":-36},{"x":335,"y":-32},{"x":348,"y":-37},{"x":361,"y":-31},{"x":373,"y":-36},{"x":387,"y":-33},{"x":320,"y":-18},{"x":331,"y":-24},{"x":342,"y":-15},{"x":355,"y":-22},{"x":368,"y":-19},{"x":380,"y":-25},{"x":392,"y":-20},{"x":312,"y":-7},{"x":327,"y":-10},{"x":339,"y":-3},{"x":351,"y":-11},{"x":363,"y":-6},{"x":376,"y":-12},{"x":389,"y":-7},{"x":317,"y":4},{"x":330,"y":3},{"x":344,"y":9},{"x":357,"y":1},{"x":370,"y":6},{"x":383,"y":11},{"x":394,"y":0},{"x":311,"y":17},{"x":325,"y":19},{"x":337,"y":14},{"x":350,"y":22},{"x":362,"y":16},{"x":377,"y":24},{"x":390,"y":18},{"x":316,"y":30},{"x":329,"y":26},{"x":342,"y":33},{"x":355,"y":29},{"x":368,"y":35},{"x":381,"y":31},{"x":393,"y":39},{"x":322,"y":38},{"x":336,"y":40},{"x":349,"y":38},{"x":374,"y":40},{"x":360,"y":-26},{"x":346,"y":5},{"x":385,"y":27},{"x":333,"y":-28},{"x":365,"y":11},{"x":319,"y":0}
  ],
  "dON_sON": [
    {"x":29,"y":321},{"x":59,"y":307},{"x":22,"y":276},{"x":35,"y":272},{"x":150,"y":323},{"x":154,"y":303},{"x":128,"y":275},{"x":160,"y":272},{"x":190,"y":329},{"x":214,"y":308},{"x":229,"y":323},{"x":245,"y":334},{"x":273,"y":307},{"x":333,"y":288},{"x":381,"y":263},{"x":387,"y":269},
    {"x":131,"y":222},{"x":165,"y":206},
    {"x":89,"y":138},{"x":91,"y":130},{"x":90,"y":116},{"x":58,"y":100},{"x":73,"y":94},{"x":89,"y":102},{"x":49,"y":92},{"x":87,"y":89},{"x":89,"y":83},
    {"x":173,"y":130},{"x":182,"y":126},{"x":138,"y":124},{"x":149,"y":112},{"x":133,"y":103},{"x":149,"y":103},{"x":176,"y":107},{"x":144,"y":92},{"x":152,"y":91},{"x":154,"y":85},{"x":121,"y":70},{"x":155,"y":60},{"x":182,"y":64},
    {"x":285,"y":121},{"x":233,"y":103},{"x":242,"y":105},{"x":214,"y":93},{"x":240,"y":74},{"x":236,"y":62},{"x":279,"y":85},{"x":277,"y":73},{"x":284,"y":66},
    {"x":339,"y":137},{"x":349,"y":138},{"x":335,"y":129},{"x":330,"y":127},{"x":324,"y":119},{"x":386,"y":138},{"x":387,"y":118},{"x":319,"y":105},{"x":326,"y":96},{"x":329,"y":65},
    {"x":92,"y":-36},{"x":78,"y":-31},{"x":66,"y":-37},{"x":52,"y":-32},{"x":40,"y":-28},{"x":27,"y":-35},{"x":14,"y":-30},{"x":85,"y":-24},{"x":71,"y":-19},{"x":59,"y":-25},{"x":46,"y":-21},{"x":33,"y":-16},{"x":19,"y":-23},{"x":10,"y":-14},{"x":90,"y":-11},{"x":76,"y":-6},{"x":63,"y":-13},{"x":50,"y":-8},{"x":37,"y":-4},{"x":24,"y":-10},{"x":12,"y":-2},{"x":83,"y":2},{"x":69,"y":6},{"x":56,"y":0},{"x":43,"y":3},{"x":30,"y":9},{"x":17,"y":4},{"x":93,"y":11},{"x":80,"y":16},{"x":65,"y":12},{"x":51,"y":18},{"x":38,"y":14},{"x":23,"y":20},{"x":11,"y":13},{"x":87,"y":25},{"x":73,"y":28},{"x":58,"y":23},{"x":46,"y":31},{"x":32,"y":26},{"x":18,"y":33},{"x":91,"y":37},{"x":76,"y":40},{"x":62,"y":35},{"x":48,"y":39},{"x":35,"y":38},{"x":21,"y":40},{"x":10,"y":28},{"x":54,"y":8},{"x":68,"y":-29},{"x":28,"y":1},{"x":42,"y":-15},{"x":15,"y":23},
    {"x":188,"y":-33},{"x":173,"y":-37},{"x":161,"y":-29},{"x":147,"y":-36},{"x":134,"y":-32},{"x":120,"y":-37},{"x":111,"y":-26},{"x":193,"y":-22},{"x":180,"y":-17},{"x":167,"y":-23},{"x":154,"y":-18},{"x":141,"y":-24},{"x":126,"y":-19},{"x":115,"y":-12},{"x":186,"y":-7},{"x":174,"y":-2},{"x":159,"y":-9},{"x":145,"y":-4},{"x":132,"y":-10},{"x":121,"y":-1},{"x":110,"y":3},{"x":191,"y":6},{"x":178,"y":11},{"x":164,"y":5},{"x":151,"y":10},{"x":137,"y":4},{"x":125,"y":13},{"x":113,"y":17},{"x":184,"y":19},{"x":170,"y":22},{"x":157,"y":16},{"x":143,"y":21},{"x":130,"y":26},{"x":118,"y":23},{"x":192,"y":29},{"x":179,"y":33},{"x":165,"y":30},{"x":152,"y":36},{"x":139,"y":32},{"x":126,"y":38},{"x":112,"y":35},{"x":186,"y":40},{"x":159,"y":40},{"x":146,"y":27},{"x":172,"y":38},{"x":134,"y":18},{"x":116,"y":-21},{"x":149,"y":-31},{"x":182,"y":-28},{"x":138,"y":9},{"x":169,"y":-12},{"x":123,"y":-14},
    {"x":290,"y":-29},{"x":281,"y":-36},{"x":269,"y":-32},{"x":256,"y":-37},{"x":243,"y":-31},{"x":231,"y":-36},{"x":217,"y":-33},{"x":284,"y":-18},{"x":273,"y":-24},{"x":262,"y":-15},{"x":249,"y":-22},{"x":236,"y":-19},{"x":224,"y":-25},{"x":212,"y":-20},{"x":292,"y":-7},{"x":277,"y":-10},{"x":265,"y":-3},{"x":253,"y":-11},{"x":241,"y":-6},{"x":228,"y":-12},{"x":215,"y":-7},{"x":287,"y":4},{"x":274,"y":3},{"x":260,"y":9},{"x":247,"y":1},{"x":234,"y":6},{"x":221,"y":11},{"x":210,"y":0},{"x":293,"y":17},{"x":279,"y":19},{"x":267,"y":14},{"x":254,"y":22},{"x":242,"y":16},{"x":227,"y":24},{"x":214,"y":18},{"x":288,"y":30},{"x":275,"y":26},{"x":262,"y":33},{"x":249,"y":29},{"x":236,"y":35},{"x":223,"y":31},{"x":211,"y":39},{"x":282,"y":38},{"x":268,"y":40},{"x":255,"y":38},{"x":230,"y":40},{"x":244,"y":-26},{"x":258,"y":5},{"x":219,"y":27},{"x":271,"y":-28},{"x":239,"y":11},{"x":285,"y":0},
    {"x":391,"y":-35},{"x":377,"y":-33},{"x":364,"y":-36},{"x":350,"y":-34},{"x":337,"y":-37},{"x":324,"y":-32},{"x":312,"y":-35},{"x":386,"y":-21},{"x":375,"y":-27},{"x":360,"y":-20},{"x":345,"y":-27},{"x":333,"y":-22},{"x":318,"y":-17},{"x":393,"y":-13},{"x":380,"y":-8},{"x":368,"y":-14},{"x":354,"y":-6},{"x":342,"y":-13},{"x":329,"y":-7},{"x":314,"y":-10},{"x":388,"y":3},{"x":372,"y":1},{"x":358,"y":7},{"x":347,"y":-2},{"x":335,"y":5},{"x":322,"y":3},{"x":310,"y":9},{"x":384,"y":14},{"x":369,"y":18},{"x":355,"y":13},{"x":341,"y":20},{"x":327,"y":15},{"x":315,"y":22},{"x":392,"y":25},{"x":377,"y":29},{"x":363,"y":24},{"x":349,"y":32},{"x":336,"y":27},{"x":320,"y":33},{"x":389,"y":39},{"x":371,"y":40},{"x":357,"y":37},{"x":343,"y":40},{"x":329,"y":38},{"x":312,"y":34},{"x":366,"y":-26},{"x":340,"y":10},{"x":380,"y":35},{"x":323,"y":-24},{"x":352,"y":-16},{"x":316,"y":12},{"x":394,"y":20}
  ]
},
"resolve": {"scale": {"x": "independent"}, "axis": {"x": "independent"}},
"layer": [
  {
    "layer": [
      {"data": {"name": "boxes"}, "mark": {"type": "rect"},
       "encoding": {
         "x": {"field": "x", "type": "quantitative", "scale": {"domain": [0, 2713], "nice": false, "zero": false}, "axis": null},
         "x2": {"field": "x2"},
         "y": {"field": "y", "type": "quantitative", "scale": {"domain": [-41, 373], "nice": false, "zero": false}},
         "y2": {"field": "y2"},
         "color": {"field": "k", "type": "nominal", "scale": {"domain": ["carry", "effect", "baseline", "followup"], "range": ["#F5EFF3", "#E1F5F4", "#FADBDB", "#C8EFF1"]}, "legend": null}}},
      {"data": {"values": [{"x": 2788, "x2": 3316, "y": 374, "y2": 209}]}, "mark": {"type": "rect", "fill": "#ffffff", "stroke": "#a8a8a8", "strokeWidth": 1},
       "encoding": {"x": {"field": "x", "type": "quantitative", "axis": null}, "x2": {"field": "x2"}, "y": {"field": "y", "type": "quantitative"}, "y2": {"field": "y2"}}},
      {"data": {"values": [{"x": 2788, "x2": 3316, "y": 374}]}, "mark": {"type": "rule", "color": "#555555", "strokeDash": [1, 1], "strokeWidth": 1},
       "encoding": {"x": {"field": "x", "type": "quantitative", "axis": null}, "x2": {"field": "x2"}, "y": {"field": "y", "type": "quantitative"}}},
      {"data": {"name": "diagram"}, "mark": {"type": "rule", "color": "#555555", "strokeWidth": 1.2},
       "encoding": {"x": {"field": "x", "type": "quantitative", "axis": null}, "x2": {"field": "x2"}, "y": {"field": "y", "type": "quantitative"}, "y2": {"field": "y2"}}},
      {"data": {"values": [{"t": "Carry-over", "x": 1412, "y": 696}]}, "mark": {"type": "text", "angle": 90, "font": "Liberation Serif", "fontSize": 14, "align": "center", "baseline": "middle", "color": "#000000"},
       "encoding": {"x": {"field": "x", "type": "quantitative", "axis": null}, "y": {"field": "y", "type": "quantitative"}, "text": {"field": "t"}}},
      {"data": {"values": [{"t": "Efectul medicației", "x": 2788, "y": 643}, {"t": "și stimulării", "x": 2716, "y": 643}]}, "mark": {"type": "text", "angle": 90, "font": "Open Sans", "fontSize": 17, "align": "left", "baseline": "middle", "color": "#000000"},
       "encoding": {"x": {"field": "x", "type": "quantitative", "axis": null}, "y": {"field": "y", "type": "quantitative"}, "text": {"field": "t"}}},
      {"data": {"values": [{"t": "S: inițierea mersului", "x": 2820, "y": 328}, {"t": "T: întoarcerea la 180º", "x": 2820, "y": 303}, {"t": "O: spațiu deschis", "x": 2820, "y": 278}, {"t": "D: atingerea destinației", "x": 2820, "y": 255}, {"t": ": valoarea medie", "x": 2872, "y": 231}]}, "mark": {"type": "text", "font": "Lato", "fontSize": 15.8, "align": "left", "baseline": "middle", "color": "#000000"},
       "encoding": {"x": {"field": "x", "type": "quantitative", "axis": null}, "y": {"field": "y", "type": "quantitative"}, "text": {"field": "t"}}},
      {"data": {"values": [{"x": 2840, "y": 228}]}, "mark": {"type": "circle", "size": 55, "color": "#FF0000", "opacity": 1},
       "encoding": {"x": {"field": "x", "type": "quantitative", "axis": null}, "y": {"field": "y", "type": "quantitative"}}},
      {"data": {"values": [{"t": "Baseline", "x": 426, "y": -95}, {"t": "Follow-up", "x": 1817, "y": -95}]}, "mark": {"type": "text", "font": "Liberation Serif", "fontSize": 14.5, "align": "center", "baseline": "alphabetic", "color": "#000000"},
       "encoding": {"x": {"field": "x", "type": "quantitative", "axis": null}, "y": {"field": "y", "type": "quantitative"}, "text": {"field": "t"}}}
    ]
  },
  {
    "layer": [
      {"data": {"name": "grid_v"}, "mark": {"type": "rule", "color": "#d2d2d2", "strokeDash": [4, 3], "strokeWidth": 1},
       "encoding": {
         "x": {"field": "x", "type": "quantitative", "scale": {"domain": [0, 2713], "nice": false, "zero": false},
               "axis": {"orient": "bottom", "values": [50, 150, 250, 350], "labelExpr": "['S','T','O','D'][floor(datum.value/100)]", "title": "OFF", "titleX": 69}},
         "y": {"datum": -41, "type": "quantitative", "scale": {"domain": [-41, 373], "nice": false, "zero": false},
               "axis": {"values": [0, 100, 200, 300], "labelExpr": "datum.value/100", "grid": false, "ticks": false, "domain": true, "domainColor": "#8c8c8c", "domainWidth": 1.5, "labelFont": "Liberation Serif", "labelFontSize": 15, "labelColor": "#000000", "labelPadding": 5, "title": "Severitatea înghețării mersului", "titleFont": "Lato", "titleFontSize": 19, "titleFontWeight": "normal", "titleColor": "#000000", "titleX": -41, "titleY": 154, "titleBaseline": "middle", "titleAlign": "center", "titleAngle": -90}},
         "y2": {"datum": 373}}},
      {"data": {"name": "grid_h"}, "mark": {"type": "rule", "color": "#d2d2d2", "strokeDash": [4, 3], "strokeWidth": 1},
       "encoding": {"x": {"datum": 0, "type": "quantitative"}, "x2": {"datum": 400}, "y": {"field": "y", "type": "quantitative"}}},
      {"data": {"values": [{}]}, "mark": {"type": "rule", "color": "#8c8c8c", "strokeWidth": 1.5},
       "encoding": {"x": {"datum": 0, "type": "quantitative"}, "x2": {"datum": 400}, "y": {"datum": -41, "type": "quantitative"}}},
      {"data": {"name": "OFF"}, "mark": {"type": "circle", "size": 11, "color": "#F8766D", "opacity": 1},
       "encoding": {"x": {"field": "x", "type": "quantitative"}, "y": {"field": "y", "type": "quantitative"}}},
      {"data": {"name": "means"}, "transform": [{"filter": {"field": "g", "equal": "OFF"}}], "mark": {"type": "circle", "size": 140, "color": "#FF0000", "opacity": 1},
       "encoding": {"x": {"field": "x", "type": "quantitative"}, "y": {"field": "m", "type": "quantitative"}}}
    ]
  },
  {
    "layer": [
      {"data": {"name": "grid_v"}, "mark": {"type": "rule", "color": "#d2d2d2", "strokeDash": [4, 3], "strokeWidth": 1},
       "encoding": {
         "x": {"field": "x", "type": "quantitative", "scale": {"domain": [-461, 2252], "nice": false, "zero": false},
               "axis": {"orient": "bottom", "values": [50, 150, 250, 350], "labelExpr": "['S','T','O','D'][floor(datum.value/100)]", "title": "ON", "titleX": 228}},
         "y": {"datum": -41, "type": "quantitative"}, "y2": {"datum": 373}}},
      {"data": {"name": "grid_h"}, "mark": {"type": "rule", "color": "#d2d2d2", "strokeDash": [4, 3], "strokeWidth": 1},
       "encoding": {"x": {"datum": 0, "type": "quantitative"}, "x2": {"datum": 400}, "y": {"field": "y", "type": "quantitative"}}},
      {"data": {"values": [{}]}, "mark": {"type": "rule", "color": "#8c8c8c", "strokeWidth": 1.5},
       "encoding": {"x": {"datum": 0, "type": "quantitative"}, "x2": {"datum": 400}, "y": {"datum": -41, "type": "quantitative"}}},
      {"data": {"name": "ON"}, "mark": {"type": "circle", "size": 11, "color": "#F8766D", "opacity": 1},
       "encoding": {"x": {"field": "x", "type": "quantitative"}, "y": {"field": "y", "type": "quantitative"}}},
      {"data": {"name": "means"}, "transform": [{"filter": {"field": "g", "equal": "ON"}}], "mark": {"type": "circle", "size": 140, "color": "#FF0000", "opacity": 1},
       "encoding": {"x": {"field": "x", "type": "quantitative"}, "y": {"field": "m", "type": "quantitative"}}}
    ]
  },
  {
    "layer": [
      {"data": {"name": "grid_v"}, "mark": {"type": "rule", "color": "#d2d2d2", "strokeDash": [4, 3], "strokeWidth": 1},
       "encoding": {
         "x": {"field": "x", "type": "quantitative", "scale": {"domain": [-927, 1786], "nice": false, "zero": false},
               "axis": {"orient": "bottom", "values": [50, 150, 250, 350], "labelExpr": "['S','T','O','D'][floor(datum.value/100)]", "title": "drug-OFF/stim-OFF", "titleX": 389}},
         "y": {"datum": -41, "type": "quantitative"}, "y2": {"datum": 373}}},
      {"data": {"name": "grid_h"}, "mark": {"type": "rule", "color": "#d2d2d2", "strokeDash": [4, 3], "strokeWidth": 1},
       "encoding": {"x": {"datum": 0, "type": "quantitative"}, "x2": {"datum": 400}, "y": {"field": "y", "type": "quantitative"}}},
      {"data": {"values": [{}]}, "mark": {"type": "rule", "color": "#8c8c8c", "strokeWidth": 1.5},
       "encoding": {"x": {"datum": 0, "type": "quantitative"}, "x2": {"datum": 400}, "y": {"datum": -41, "type": "quantitative"}}},
      {"data": {"name": "dOFF_sOFF"}, "mark": {"type": "circle", "size": 11, "color": "#00BFC4", "opacity": 1},
       "encoding": {"x": {"field": "x", "type": "quantitative"}, "y": {"field": "y", "type": "quantitative"}}},
      {"data": {"name": "means"}, "transform": [{"filter": {"field": "g", "equal": "dOFF_sOFF"}}], "mark": {"type": "circle", "size": 140, "color": "#FF0000", "opacity": 1},
       "encoding": {"x": {"field": "x", "type": "quantitative"}, "y": {"field": "m", "type": "quantitative"}}}
    ]
  },
  {
    "layer": [
      {"data": {"name": "grid_v"}, "mark": {"type": "rule", "color": "#d2d2d2", "strokeDash": [4, 3], "strokeWidth": 1},
       "encoding": {
         "x": {"field": "x", "type": "quantitative", "scale": {"domain": [-1391, 1322], "nice": false, "zero": false},
               "axis": {"orient": "bottom", "values": [50, 150, 250, 350], "labelExpr": "['S','T','O','D'][floor(datum.value/100)]", "title": "drug-OFF/stim-ON", "titleX": 549}},
         "y": {"datum": -41, "type": "quantitative"}, "y2": {"datum": 373}}},
      {"data": {"name": "grid_h"}, "mark": {"type": "rule", "color": "#d2d2d2", "strokeDash": [4, 3], "strokeWidth": 1},
       "encoding": {"x": {"datum": 0, "type": "quantitative"}, "x2": {"datum": 400}, "y": {"field": "y", "type": "quantitative"}}},
      {"data": {"values": [{}]}, "mark": {"type": "rule", "color": "#8c8c8c", "strokeWidth": 1.5},
       "encoding": {"x": {"datum": 0, "type": "quantitative"}, "x2": {"datum": 400}, "y": {"datum": -41, "type": "quantitative"}}},
      {"data": {"name": "dOFF_sON"}, "mark": {"type": "circle", "size": 11, "color": "#00BFC4", "opacity": 1},
       "encoding": {"x": {"field": "x", "type": "quantitative"}, "y": {"field": "y", "type": "quantitative"}}},
      {"data": {"name": "means"}, "transform": [{"filter": {"field": "g", "equal": "dOFF_sON"}}], "mark": {"type": "circle", "size": 140, "color": "#FF0000", "opacity": 1},
       "encoding": {"x": {"field": "x", "type": "quantitative"}, "y": {"field": "m", "type": "quantitative"}}}
    ]
  },
  {
    "layer": [
      {"data": {"name": "grid_v"}, "mark": {"type": "rule", "color": "#d2d2d2", "strokeDash": [4, 3], "strokeWidth": 1},
       "encoding": {
         "x": {"field": "x", "type": "quantitative", "scale": {"domain": [-1849, 864], "nice": false, "zero": false},
               "axis": {"orient": "bottom", "values": [50, 150, 250, 350], "labelExpr": "['S','T','O','D'][floor(datum.value/100)]", "title": "drug-ON/stim-OFF", "titleX": 707}},
         "y": {"datum": -41, "type": "quantitative"}, "y2": {"datum": 373}}},
      {"data": {"name": "grid_h"}, "mark": {"type": "rule", "color": "#d2d2d2", "strokeDash": [4, 3], "strokeWidth": 1},
       "encoding": {"x": {"datum": 0, "type": "quantitative"}, "x2": {"datum": 400}, "y": {"field": "y", "type": "quantitative"}}},
      {"data": {"values": [{}]}, "mark": {"type": "rule", "color": "#8c8c8c", "strokeWidth": 1.5},
       "encoding": {"x": {"datum": 0, "type": "quantitative"}, "x2": {"datum": 400}, "y": {"datum": -41, "type": "quantitative"}}},
      {"data": {"name": "dON_sOFF"}, "mark": {"type": "circle", "size": 11, "color": "#00BFC4", "opacity": 1},
       "encoding": {"x": {"field": "x", "type": "quantitative"}, "y": {"field": "y", "type": "quantitative"}}},
      {"data": {"name": "means"}, "transform": [{"filter": {"field": "g", "equal": "dON_sOFF"}}], "mark": {"type": "circle", "size": 140, "color": "#FF0000", "opacity": 1},
       "encoding": {"x": {"field": "x", "type": "quantitative"}, "y": {"field": "m", "type": "quantitative"}}}
    ]
  },
  {
    "layer": [
      {"data": {"name": "grid_v"}, "mark": {"type": "rule", "color": "#d2d2d2", "strokeDash": [4, 3], "strokeWidth": 1},
       "encoding": {
         "x": {"field": "x", "type": "quantitative", "scale": {"domain": [-2313, 400], "nice": false, "zero": false},
               "axis": {"orient": "bottom", "values": [50, 150, 250, 350], "labelExpr": "['S','T','O','D'][floor(datum.value/100)]", "title": "drug-ON/stim-ON", "titleX": 867}},
         "y": {"datum": -41, "type": "quantitative"}, "y2": {"datum": 373}}},
      {"data": {"name": "grid_h"}, "mark": {"type": "rule", "color": "#d2d2d2", "strokeDash": [4, 3], "strokeWidth": 1},
       "encoding": {"x": {"datum": 0, "type": "quantitative"}, "x2": {"datum": 400}, "y": {"field": "y", "type": "quantitative"}}},
      {"data": {"values": [{}]}, "mark": {"type": "rule", "color": "#8c8c8c", "strokeWidth": 1.5},
       "encoding": {"x": {"datum": 0, "type": "quantitative"}, "x2": {"datum": 400}, "y": {"datum": -41, "type": "quantitative"}}},
      {"data": {"name": "dON_sON"}, "mark": {"type": "circle", "size": 11, "color": "#00BFC4", "opacity": 1},
       "encoding": {"x": {"field": "x", "type": "quantitative"}, "y": {"field": "y", "type": "quantitative"}}},
      {"data": {"name": "means"}, "transform": [{"filter": {"field": "g", "equal": "dON_sON"}}], "mark": {"type": "circle", "size": 140, "color": "#FF0000", "opacity": 1},
       "encoding": {"x": {"field": "x", "type": "quantitative"}, "y": {"field": "m", "type": "quantitative"}}}
    ]
  }
]
}
